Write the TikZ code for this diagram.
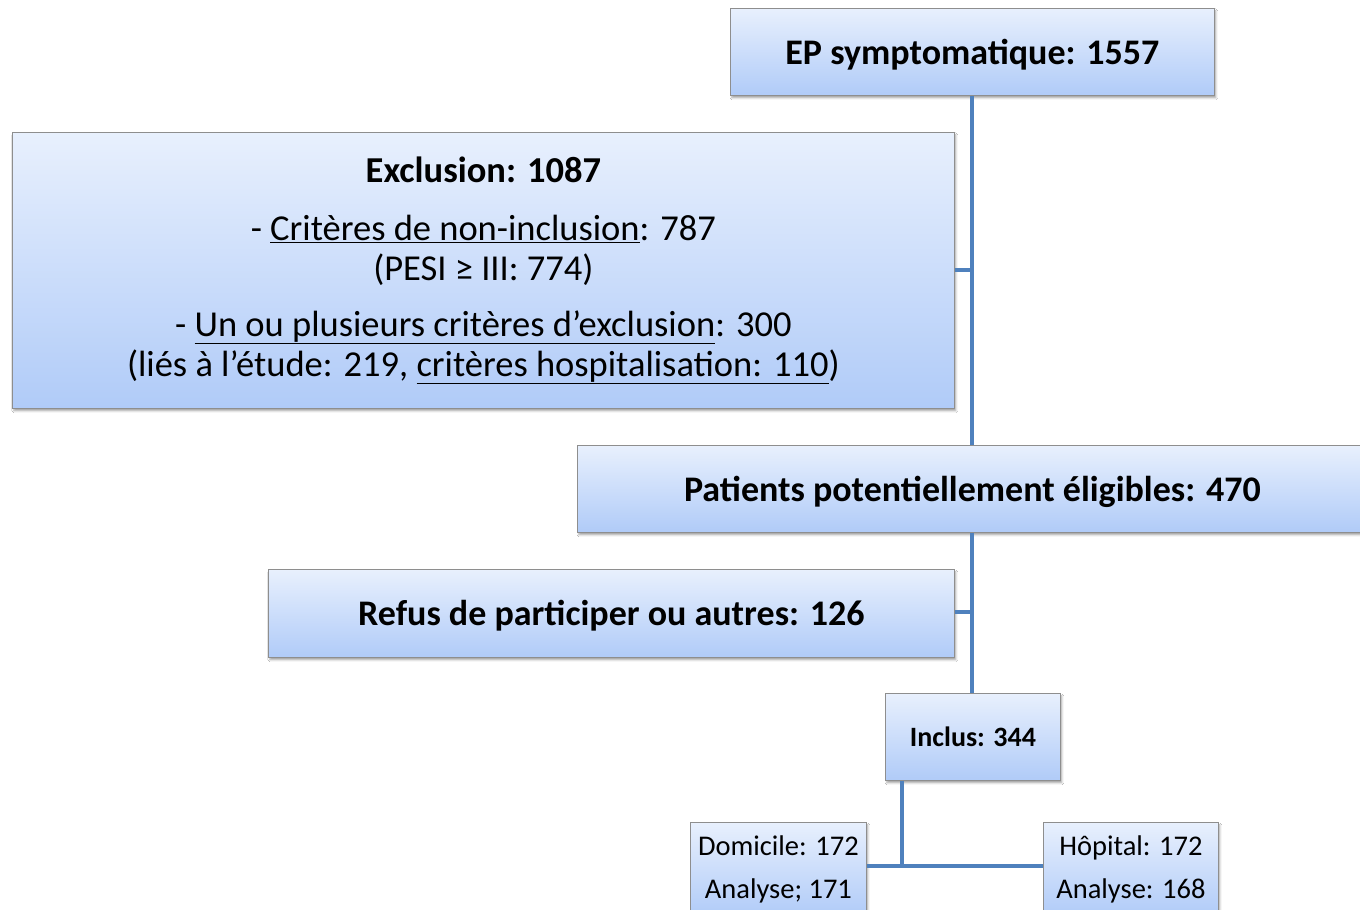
\documentclass[tikz,border=0pt]{standalone}
\usepackage{fontspec}
\setmainfont{Carlito}
\usetikzlibrary{shadows.blur}
\definecolor{lineblue}{HTML}{4F81BD}
\definecolor{boxtop}{HTML}{E8F0FD}
\definecolor{boxbot}{HTML}{B0CBF8}
\definecolor{boxedge}{HTML}{8E8E8E}
\tikzset{
  flowbox/.style={draw=boxedge, line width=0.8pt, top color=boxtop, bottom color=boxbot,
    anchor=north west, inner sep=0pt, align=center,
    blur shadow={shadow xshift=1.5pt, shadow yshift=-2.5pt, shadow opacity=35, shadow blur steps=4}},
  bigtxt/.style={font=\fontsize{36}{40}\selectfont\bfseries, text height=33.5pt, text depth=8.5pt},
  conn/.style={draw=lineblue, line width=4pt},
}
\begin{document}
\begin{tikzpicture}[x=1pt, y=-1pt]
\useasboundingbox (0,0) rectangle (1360,910);
\clip (0,0) rectangle (1360,910);
\fill[white] (0,0) rectangle (1360,910);

\node[flowbox, bigtxt, minimum width=484pt, minimum height=87pt] (ep) at (730,8)
  {EP symptomatique: 1557};
\node[flowbox, font=\fontsize{36.5}{40}\selectfont, minimum width=942pt, minimum height=276pt] (excl) at (12,132)
  {\textbf{Exclusion: 1087}\\[18pt]
   - \underline{Critères de non-inclusion}: 787\\
   (PESI ≥ III: 774)\\[16pt]
   - \underline{Un ou plusieurs critères d’exclusion}: 300\\
   (liés à l’étude: 219, \underline{critères hospitalisation: 110})};
\node[flowbox, bigtxt, minimum width=790pt, minimum height=87pt] (pat) at (577,445)
  {Patients potentiellement éligibles: 470};
\node[flowbox, bigtxt, minimum width=686pt, minimum height=88pt] (refus) at (268,569)
  {Refus de participer ou autres: 126};
\node[flowbox, font=\fontsize{28}{32}\selectfont\bfseries, minimum width=175pt, minimum height=87pt] (incl) at (885,693)
  {Inclus: 344};
\node[flowbox, font=\fontsize{28.5}{43}\selectfont, minimum width=176pt, minimum height=94pt] (dom) at (690,822)
  {Domicile: 172\\ Analyse; 171};
\node[flowbox, font=\fontsize{28.5}{43}\selectfont, minimum width=175pt, minimum height=94pt] (hop) at (1043,822)
  {Hôpital: 172\\ Analyse: 168};

\coordinate (j1) at (972,270);
\coordinate (j2) at (972,612);
\coordinate (j3) at (902,866);

\draw[conn] (ep.south -| j1) -- (pat.north -| j1);
\draw[conn] (excl.east |- j1) -- (j1);
\draw[conn] (pat.south -| j2) -- (incl.north -| j2);
\draw[conn] (refus.east |- j2) -- (j2);
\draw[conn] (incl.south -| j3) -- (j3);
\draw[conn] (dom.east |- j3) -- (hop.west |- j3);
\end{tikzpicture}
\end{document}
